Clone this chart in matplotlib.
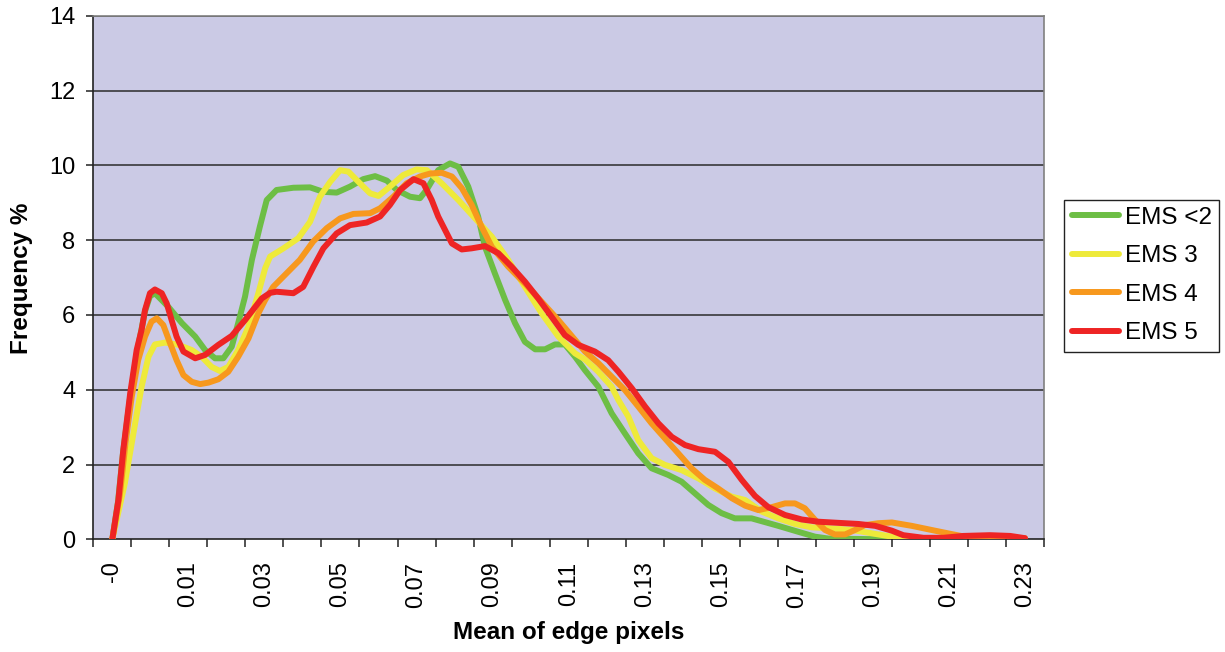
import matplotlib
matplotlib.use("Agg")
import matplotlib.pyplot as plt
from matplotlib.ticker import FixedLocator, NullFormatter

plt.rcParams['font.family'] = ['Liberation Sans', 'DejaVu Sans']

# ---- data ----
series_names = ["EMS <2", "EMS 3", "EMS 4", "EMS 5"]
series_colors = ["#6DBE45", "#EEEA3A", "#F7981D", "#EE2424"]

green_x = [-0.005, -0.0035, -0.0022, -0.0003, 0.0015, 0.0036, 0.0049, 0.0062, 0.0097, 0.0133,
           0.0168, 0.0194, 0.0220, 0.0242, 0.0264, 0.0281, 0.0299, 0.0317, 0.0338, 0.0356,
           0.0382, 0.0426, 0.0470, 0.0505, 0.0540, 0.0575, 0.0610, 0.0641, 0.0672, 0.0698,
           0.0733, 0.0759, 0.0777, 0.0807, 0.0838, 0.0860, 0.0886, 0.0912, 0.0930, 0.0956,
           0.0983, 0.1009, 0.1035, 0.1062, 0.1088, 0.1114, 0.1140, 0.1167, 0.1193, 0.1228,
           0.1263, 0.1298, 0.1333, 0.1368, 0.1412, 0.1447, 0.1482, 0.1517, 0.1552, 0.1587,
           0.1631, 0.1701, 0.1754, 0.1798, 0.1833, 0.19, 0.20, 0.235]
green_y = [0.0, 1.0, 2.3, 3.8, 5.0, 6.1, 6.5, 6.58, 6.22, 5.78,
           5.42, 5.06, 4.84, 4.84, 5.15, 5.78, 6.49, 7.47, 8.36, 9.07,
           9.34, 9.40, 9.41, 9.29, 9.27, 9.43, 9.63, 9.71, 9.59, 9.34,
           9.16, 9.12, 9.35, 9.87, 10.05, 9.96, 9.43, 8.63, 7.82, 7.11,
           6.40, 5.78, 5.28, 5.08, 5.08, 5.21, 5.21, 4.88, 4.52, 4.08,
           3.37, 2.83, 2.30, 1.90, 1.72, 1.54, 1.23, 0.92, 0.70, 0.56,
           0.56, 0.36, 0.20, 0.07, 0.02, 0.01, 0.0, 0.0]

yellow_x = [-0.005, -0.0017, 0.0010, 0.0027, 0.0045, 0.0062, 0.0089, 0.0124, 0.0159, 0.0185,
            0.0211, 0.0233, 0.0255, 0.0281, 0.0308, 0.0334, 0.0352, 0.0365, 0.0400, 0.0439,
            0.0470, 0.0496, 0.0523, 0.0549, 0.0571, 0.0601, 0.0628, 0.0650, 0.0680, 0.0715,
            0.0750, 0.0777, 0.0816, 0.0860, 0.0904, 0.0948, 0.0991, 0.1035, 0.1079, 0.1123,
            0.1167, 0.1193, 0.1228, 0.1263, 0.1281, 0.1307, 0.1333, 0.1368, 0.1403, 0.1447,
            0.1491, 0.1535, 0.1579, 0.1614, 0.1658, 0.1701, 0.1745, 0.1789, 0.1842, 0.1894,
            0.1947, 0.2000, 0.2030, 0.2083, 0.235]
yellow_y = [0.0, 1.50, 3.10, 4.08, 4.88, 5.21, 5.26, 5.20, 5.06, 4.88,
            4.61, 4.50, 4.61, 5.06, 5.68, 6.58, 7.25, 7.56, 7.78, 8.05,
            8.49, 9.16, 9.56, 9.87, 9.83, 9.52, 9.25, 9.18, 9.43, 9.74,
            9.89, 9.87, 9.52, 9.07, 8.58, 8.09, 7.47, 6.75, 6.04, 5.42,
            4.97, 4.81, 4.48, 4.08, 3.72, 3.28, 2.65, 2.17, 1.99, 1.85,
            1.63, 1.36, 1.14, 1.05, 0.74, 0.56, 0.41, 0.32, 0.29, 0.25,
            0.16, 0.07, 0.03, 0.0, 0.0]

orange_x = [-0.005, -0.0030, -0.0015, 0.0001, 0.0018, 0.0036, 0.0053, 0.0067, 0.0084, 0.0102,
            0.0119, 0.0137, 0.0159, 0.0181, 0.0203, 0.0229, 0.0255, 0.0281, 0.0308, 0.0334,
            0.0352, 0.0373, 0.0408, 0.0443, 0.0478, 0.0514, 0.0549, 0.0584, 0.0628, 0.0654,
            0.0689, 0.0724, 0.0759, 0.0786, 0.0816, 0.0843, 0.0869, 0.0895, 0.0921, 0.0948,
            0.0991, 0.1035, 0.1079, 0.1123, 0.1167, 0.1193, 0.1228, 0.1263, 0.1298, 0.1333,
            0.1368, 0.1403, 0.1438, 0.1473, 0.1508, 0.1543, 0.1579, 0.1614, 0.1649, 0.1684,
            0.1719, 0.1745, 0.1771, 0.1798, 0.1824, 0.1850, 0.1877, 0.1903, 0.1929, 0.1964,
            0.2000, 0.2052, 0.2104, 0.2157, 0.2192, 0.225, 0.235]
orange_y = [0.0, 1.2, 2.6, 3.81, 4.79, 5.42, 5.82, 5.91, 5.73, 5.24,
            4.79, 4.39, 4.21, 4.15, 4.19, 4.28, 4.48, 4.88, 5.37, 6.04,
            6.40, 6.75, 7.11, 7.47, 7.96, 8.32, 8.58, 8.70, 8.72, 8.85,
            9.16, 9.52, 9.70, 9.78, 9.80, 9.70, 9.39, 8.94, 8.36, 7.82,
            7.29, 6.84, 6.35, 5.86, 5.33, 5.02, 4.71, 4.35, 3.99, 3.55,
            3.10, 2.70, 2.30, 1.90, 1.59, 1.36, 1.10, 0.90, 0.78, 0.86,
            0.96, 0.96, 0.83, 0.52, 0.25, 0.13, 0.13, 0.25, 0.38, 0.43,
            0.45, 0.36, 0.25, 0.14, 0.07, 0.05, 0.03]

red_x = [-0.005, -0.0034, -0.0021, -0.0003, 0.0014, 0.0027, 0.0036, 0.0049, 0.0062, 0.0080,
         0.0093, 0.0106, 0.0119, 0.0137, 0.0168, 0.0194, 0.0229, 0.0264, 0.0299, 0.0343,
         0.0365, 0.0382, 0.0426, 0.0452, 0.0479, 0.0505, 0.0540, 0.0575, 0.0619, 0.0654,
         0.0680, 0.0707, 0.0742, 0.0768, 0.0790, 0.0807, 0.0825, 0.0843, 0.0869, 0.0895,
         0.0930, 0.0965, 0.1000, 0.1035, 0.1070, 0.1105, 0.1140, 0.1175, 0.1219, 0.1254,
         0.1281, 0.1316, 0.1351, 0.1386, 0.1421, 0.1456, 0.1491, 0.1535, 0.1570, 0.1605,
         0.1640, 0.1675, 0.1719, 0.1763, 0.1807, 0.1859, 0.1912, 0.1956, 0.2000, 0.2030,
         0.2083, 0.2135, 0.2188, 0.2258, 0.2311, 0.235]
red_y = [0.0, 1.05, 2.4, 3.9, 5.06, 5.6, 6.13, 6.58, 6.68, 6.58,
         6.31, 5.86, 5.42, 5.02, 4.84, 4.93, 5.20, 5.44, 5.86, 6.44,
         6.59, 6.62, 6.58, 6.75, 7.29, 7.78, 8.18, 8.40, 8.47, 8.63,
         8.94, 9.34, 9.63, 9.52, 9.07, 8.63, 8.27, 7.91, 7.75, 7.78,
         7.84, 7.65, 7.29, 6.89, 6.44, 5.95, 5.46, 5.20, 5.02, 4.79,
         4.48, 4.04, 3.55, 3.10, 2.74, 2.52, 2.41, 2.34, 2.07, 1.59,
         1.16, 0.86, 0.65, 0.53, 0.47, 0.44, 0.41, 0.36, 0.23, 0.11,
         0.04, 0.04, 0.09, 0.11, 0.09, 0.03]

category_edges = [round(-0.01 + 0.01 * i, 3) for i in range(26)]
label_positions = [-0.005 + 0.02 * i for i in range(13)]
label_texts = ["-0", "0.01", "0.03", "0.05", "0.07", "0.09", "0.11", "0.13",
               "0.15", "0.17", "0.19", "0.21", "0.23"]
y_ticks = [0, 2, 4, 6, 8, 10, 12, 14]

# ---- figure ----
fig = plt.figure(figsize=(12.25, 6.52), dpi=100)
ax = fig.add_axes([93.3 / 1225, 1 - 539.3 / 652, (1044 - 93.3) / 1225, (539.3 - 15.7) / 652])
ax.set_facecolor("#CBCAE5")

all_x = [green_x, yellow_x, orange_x, red_x]
all_y = [green_y, yellow_y, orange_y, red_y]
for xs, ys, name, col in zip(all_x, all_y, series_names, series_colors):
    ax.plot(xs, ys, color=col, lw=4.3, label=name, solid_joinstyle="round",
            solid_capstyle="round", zorder=3)

ax.set_xlim(-0.01, 0.24)
ax.set_ylim(0, 14)

ax.set_yticks(y_ticks)
ax.set_yticklabels([str(v) for v in y_ticks])
for v in y_ticks[1:]:
    ax.axhline(v, color="#2b2b2b", lw=1.1, zorder=1)

ax.xaxis.set_major_locator(FixedLocator(label_positions))
ax.set_xticklabels(label_texts, rotation=90)
ax.xaxis.set_minor_locator(FixedLocator(category_edges))
ax.xaxis.set_minor_formatter(NullFormatter())
ax.tick_params(axis="x", which="major", length=0, pad=16, labelsize=17)
ax.tick_params(axis="x", which="minor", length=6, width=1.1, direction="out", color="#222222")
ax.tick_params(axis="y", which="major", length=5, width=1.1, direction="out", pad=8,
               labelsize=17, color="#222222")

for side in ["left", "bottom"]:
    ax.spines[side].set_color("#222222")
    ax.spines[side].set_linewidth(1.2)
for side in ["top", "right"]:
    ax.spines[side].set_color("#808080")
    ax.spines[side].set_linewidth(1.2)

fig.text(568.7 / 1225, 1 - 633 / 652, "Mean of edge pixels", ha="center", va="center",
         fontsize=17.5, fontweight="bold")
fig.text(22 / 1225, 1 - 278 / 652, "Frequency %", ha="center", va="center",
         rotation=90, fontsize=17.5, fontweight="bold")

leg = ax.legend(loc="upper left", bbox_to_anchor=(1064.3 / 1225, 1 - 199.5 / 652),
                bbox_transform=fig.transFigure, frameon=True, fancybox=False,
                fontsize=17.5, handlelength=1.95, handletextpad=0.25,
                labelspacing=0.68, borderpad=0.3, borderaxespad=0)
leg.get_frame().set_edgecolor("#222222")
leg.get_frame().set_linewidth(1.0)
leg.get_frame().set_facecolor("white")
leg.get_frame().set_alpha(1)

fig.savefig("out.png", dpi=100, facecolor="white")
